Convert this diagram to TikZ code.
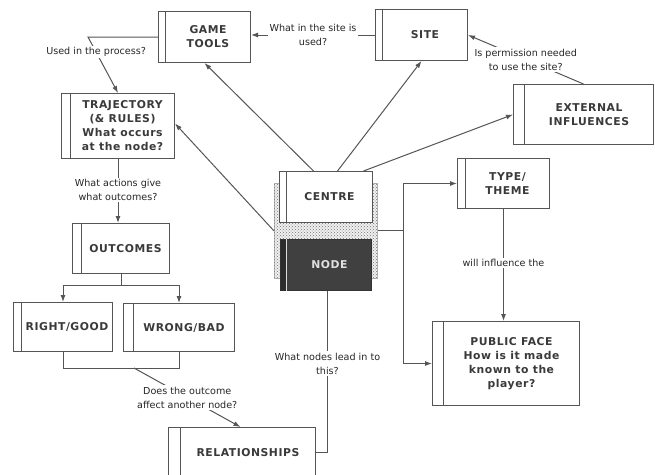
\documentclass[tikz,border=0pt]{standalone}
\usepackage{fontspec}
\setmainfont{DejaVu Sans}
\newfontfamily\boxfont[LetterSpace=5]{DejaVu Sans}
\usetikzlibrary{arrows.meta,patterns,calc}
\definecolor{ln}{HTML}{555555}
\definecolor{tx}{HTML}{3a3a3a}
\definecolor{nodefill}{HTML}{404040}
\tikzset{
  box/.style={draw=ln, line width=1pt, fill=white, inner sep=0pt, rectangle},
  boxtext/.style={font=\boxfont\bfseries\fontsize{10.8}{14}\selectfont, text=tx, align=center, inner sep=0pt},
  lbl/.style={font=\fontsize{9.6}{14}\selectfont, text=black!85, align=center, fill=white, inner sep=1.5pt},
  conn/.style={draw=ln, line width=1pt},
  arr/.style={conn, -{Latex[length=7pt,width=5pt]}},
  dotbg/.style={draw=gray!60, line width=0.8pt, fill=gray!12, postaction={pattern=crosshatch dots, pattern color=black!55}, inner sep=0pt, rectangle}
}
\newcommand{\mybox}[7]{%
  \node[box, minimum width=#4pt, minimum height=#5pt, anchor=north west] (#1) at (#2,#3) {};
  \draw[ln, line width=1pt] ([xshift=#6pt]#1.north west) -- ([xshift=#6pt]#1.south west);
  \node[boxtext] (#1t) at ([xshift=0.5*#6pt]#1.center) {#7};
}
\begin{document}
\begin{tikzpicture}[x=1pt,y=-1pt]
\useasboundingbox (0,0) rectangle (655,474);
\clip (0,0) rectangle (655,474);
\fill[white] (0,0) rectangle (655,474);
% centre / node group
\node[dotbg, minimum width=103pt, minimum height=95pt, anchor=north west] (ctr) at (274,183) {};
\mybox{ce}{279}{171}{93}{51}{7}{CENTRE}
\node[box, fill=nodefill, draw=nodefill!80!black, minimum width=91pt, minimum height=51pt, anchor=north west] (nd) at (280,239) {};
\fill[nodefill!70!black] ([shift={(0.5pt,-0.5pt)}]nd.north west) rectangle ([shift={(6pt,0.5pt)}]nd.south west);
\draw[white!75!gray, line width=0.8pt] ([xshift=6.5pt]nd.north west) -- ([xshift=6.5pt]nd.south west);
\node[boxtext, text=white!88!black] (ndt) at ([xshift=3.5pt]nd.center) {NODE};
% boxes
\mybox{gt}{158}{11}{92}{51}{7}{GAME\\TOOLS}
\mybox{site}{375}{9}{92}{51}{7}{SITE}
\mybox{traj}{61}{93}{113}{65}{9}{TRAJECTORY\\(\& RULES)\\What occurs\\at the node?}
\mybox{ext}{513}{84}{140}{60}{11}{EXTERNAL\\INFLUENCES}
\mybox{tt}{457}{158}{92}{50}{8}{TYPE/\\THEME}
\mybox{out}{72}{223}{97}{50}{9}{OUTCOMES}
\mybox{rg}{13}{302}{99}{49}{8}{RIGHT/GOOD}
\mybox{wb}{123}{303}{111}{48}{10}{WRONG/BAD}
\mybox{rel}{168}{427}{147}{50}{12}{RELATIONSHIPS}
\mybox{pf}{432}{321}{147}{84}{11}{PUBLIC FACE\\How is it made\\known to the\\player?}
% connectors
\draw[arr] (site.west) -- (site.west -| gt.east) node[lbl, midway] (l1) {What in the site is\\used?};
\draw[arr] (ext.north) -- (site.east) node[lbl, pos=0.5] (l2) {Is permission needed\\to use the site?};
\draw[arr] (gt.west) -- ++(-70,0) coordinate (gtl) -- (traj.north) node[lbl, pos=0.27] (l3) {Used in the process?};
\draw[arr] ([xshift=-12.5pt]ce.north) -- (gt.south);
\draw[arr] ([xshift=11.5pt]ce.north) -- (site.south);
\draw[arr] ([xshift=37.5pt]ce.north) -- (ext.west);
\draw[arr] (ctr.west) -- ([yshift=2.5pt]traj.east);
\draw[conn] (ctr.east) -- ++(26,0) coordinate (jn);
\draw[arr] (jn) |- (tt.west);
\draw[arr] (jn) |- (pf.west);
\draw[arr] (tt.south) -- (tt.south |- pf.north) node[lbl, pos=0.48] (l4) {will influence the};
\draw[arr] (traj.south) -- (traj.south |- out.north) node[lbl, pos=0.48] (l5) {What actions give\\what outcomes?};
\draw[conn] (out.south) -- ++(0,11) coordinate (ob);
\draw[arr] (ob) -| (rg.north);
\draw[arr] (ob) -| (wb.north);
\draw[conn] (rg.south) -- ++(0,16) coordinate (rb) -| (wb.south);
\coordinate (rbm) at ($(rb)+(71,0)$);
\draw[arr] (rbm) -- ([xshift=-1.5pt]rel.north) node[lbl, pos=0.5] (l6) {Does the outcome\\affect another node?};
\draw[conn] ([xshift=1.5pt]nd.south) |- (rel.east) node[lbl, pos=0.225] (l7) {What nodes lead in to\\this?};
\end{tikzpicture}
\end{document}
